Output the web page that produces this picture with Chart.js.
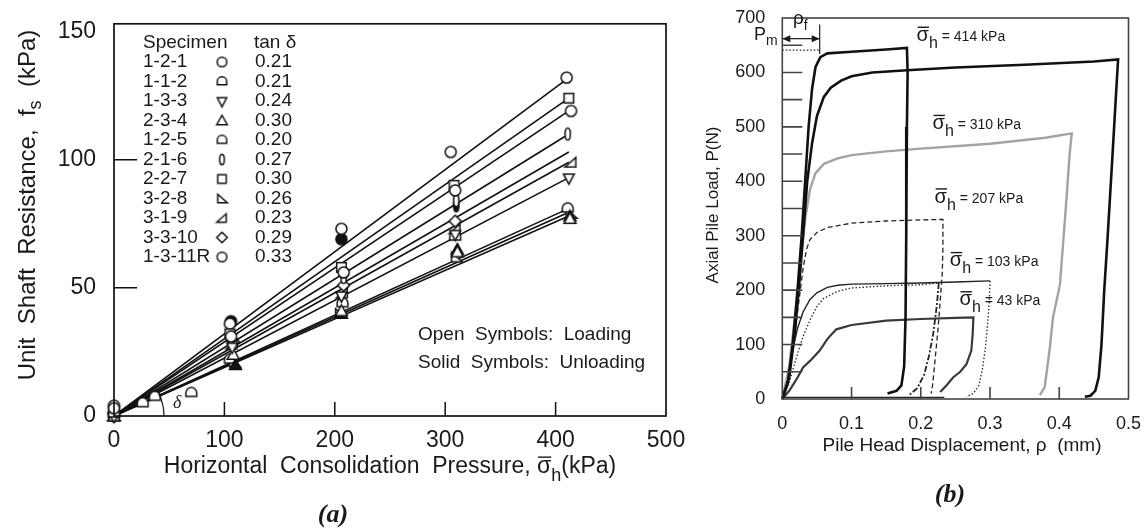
<!DOCTYPE html>
<html>
<head>
<meta charset="utf-8">
<title>Unit shaft resistance and pile load-displacement</title>
<script src="https://cdn.jsdelivr.net/npm/chart.js@4.4.1/dist/chart.umd.min.js"></script>
<style>
  html, body { margin: 0; padding: 0; background: #fff; }
  #page { position: relative; width: 1147px; height: 532px; overflow: hidden; background: #fff; }
  #chartA { position: absolute; left: 0; top: 0; }
  #chartB { position: absolute; left: 700px; top: 0; }
</style>
</head>
<body>
<div id="page">
  <canvas id="chartA" width="700" height="532"></canvas>
  <canvas id="chartB" width="447" height="532"></canvas>
</div>
<script>
var FONT = "'Liberation Sans', Arial, Helvetica, sans-serif";
var SERIF = "'Liberation Serif', 'Times New Roman', serif";
var INK = '#1a1a1a';

// ---------- panel (a): unit shaft resistance vs consolidation pressure ----------
var specimens = ['1-2-1', '1-1-2', '1-3-3', '2-3-4', '1-2-5', '2-1-6', '2-2-7', '3-2-8', '3-1-9', '3-3-10', '1-3-11R'];
var tanDelta = ['0.21', '0.21', '0.24', '0.30', '0.20', '0.27', '0.30', '0.26', '0.23', '0.29', '0.33'];

// loading (open symbols)
var loadX = [
  [0, 106, 208, 309, 414],
  [0, 26, 37, 70],
  [0, 107, 206, 309, 412],
  [0, 108, 206, 311, 413],
  [0, 105, 207, 309, 411],
  [0, 106, 208, 310, 411],
  [0, 105, 206, 308, 412],
  [0, 109, 205, 310, 414],
  [0, 107, 207, 309, 414],
  [0, 108, 208, 309],
  [0, 105, 206, 305, 410]
];
var loadY = [
  [3, 31, 56, 88, 119],
  [1, 5, 7.5, 9],
  [0, 27, 47, 71, 93],
  [0, 24, 41, 64, 77],
  [1, 22, 44, 70, 81],
  [0, 30, 54, 84, 110],
  [1, 32, 58, 90, 124],
  [0, 21, 40, 62, 79],
  [0, 28, 48, 73, 99],
  [1, 29, 51, 76],
  [4, 36, 73, 103, 132]
];
// unloading (solid symbols)
var unloadX = [[], [], [], [311, 206, 110, 413], [], [310], [], [], [], [], [206, 106]];
var unloadY = [[], [], [], [65, 40, 20, 78], [], [82], [], [], [], [], [69, 37]];
// fitted lines through the origin
var fitAt = 412;
var fitEnd = [119, null, 93, 78, 81, 110, 124, 79.5, 99, 103, 132];

var tickMarksAx = [100, 200, 300, 400];
var tickMarksAy = [50, 100];

var symbolKinds = ['circle', 'dome', 'invTri', 'triangle', 'dome', 'ellipse', 'square', 'rightTri', 'leftTri', 'diamond', 'circle'];

// ---------- panel (b): axial pile load vs pile head displacement ----------
var p414aX = [0, 0.008, 0.015, 0.022, 0.028, 0.033, 0.038, 0.043, 0.048, 0.055, 0.065, 0.1, 0.15, 0.18, 0.181, 0.18, 0.179, 0.178, 0.176, 0.172, 0.165, 0.152];
var p414aY = [0, 30, 100, 200, 300, 400, 500, 570, 610, 628, 635, 638, 642, 645, 600, 500, 300, 150, 60, 25, 15, 10];
var p414bX = [0, 0.01, 0.018, 0.025, 0.03, 0.036, 0.043, 0.05, 0.06, 0.07, 0.085, 0.1, 0.13, 0.18, 0.25, 0.35, 0.45, 0.485, 0.482, 0.477, 0.47, 0.465, 0.461, 0.457, 0.452, 0.445, 0.437];
var p414bY = [0, 40, 120, 220, 300, 400, 470, 520, 555, 572, 585, 593, 600, 604, 609, 614, 620, 624, 560, 450, 300, 200, 100, 40, 15, 6, 4];
var p310X = [0, 0.01, 0.02, 0.027, 0.033, 0.04, 0.048, 0.06, 0.08, 0.1, 0.15, 0.2, 0.3, 0.38, 0.418, 0.415, 0.41, 0.401, 0.391, 0.386, 0.379, 0.372];
var p310Y = [0, 60, 170, 260, 330, 385, 415, 432, 442, 448, 455, 460, 469, 480, 488, 450, 360, 210, 150, 90, 22, 7];
var p207X = [0, 0.01, 0.018, 0.025, 0.03, 0.035, 0.04, 0.05, 0.065, 0.1, 0.15, 0.2, 0.232, 0.232, 0.231, 0.228, 0.225, 0.222, 0.219, 0.217, 0.215];
var p207Y = [0, 50, 120, 190, 240, 275, 293, 306, 315, 323, 327, 329, 330, 280, 230, 180, 130, 90, 50, 25, 10];
var p103aX = [0, 0.008, 0.015, 0.022, 0.03, 0.04, 0.05, 0.065, 0.08, 0.1, 0.15, 0.2, 0.25, 0.3];
var p103aY = [0, 40, 90, 130, 160, 183, 195, 205, 209, 211, 212, 213, 215, 217];
var p103aUnX = [0.3, 0.299, 0.296, 0.293, 0.289, 0.284, 0.276, 0.266];
var p103aUnY = [217, 180, 130, 90, 55, 25, 10, 4];
var p103bX = [0, 0.01, 0.02, 0.03, 0.04, 0.05, 0.06, 0.08, 0.1, 0.15, 0.2, 0.226];
var p103bY = [0, 30, 75, 115, 145, 170, 185, 198, 204, 208, 210, 213];
var p103bUnX = [0.226, 0.223, 0.218, 0.212, 0.205, 0.195, 0.182];
var p103bUnY = [213, 170, 120, 80, 45, 20, 6];
var p43X = [0, 0.01, 0.02, 0.03, 0.04, 0.054, 0.065, 0.078, 0.1, 0.15, 0.2, 0.25, 0.276, 0.275, 0.273, 0.266, 0.257, 0.247, 0.237, 0.228];
var p43Y = [0, 15, 35, 58, 70, 89, 110, 128, 136, 144, 147, 149, 150, 120, 89, 64, 50, 40, 25, 13];
var baseX = [0, 0.234];
var baseY = [3, 3];
var pmX = [0, 0.054];
var pmY = [641, 641];
var rhoF = 0.054;
var sigmaValues = ['414', '310', '207', '103', '43'];

var tickMarksBx = [0.1, 0.2, 0.3, 0.4];
var tickMarksBy = [50, 100, 150, 200, 250, 300, 350, 400, 450, 500, 550, 600, 650];

// ---------- helpers ----------
function font(size, style, fam) { return (style ? style + ' ' : '') + size + 'px ' + (fam || FONT); }

function pts(xs, ys) { return xs.map(function (x, i) { return { x: x, y: ys[i] }; }); }

function drawRuns(ctx, runs, x, y, align) {
  var total = 0;
  runs.forEach(function (r) { ctx.font = font(r.size, r.style, r.fam); r.w = ctx.measureText(r.t).width; total += r.w; });
  var cx = align === 'center' ? x - total / 2 : x;
  ctx.textAlign = 'left';
  ctx.textBaseline = 'alphabetic';
  runs.forEach(function (r) {
    ctx.font = font(r.size, r.style, r.fam);
    ctx.fillText(r.t, cx, y + (r.dy || 0));
    if (r.bar) ctx.fillRect(cx + 1, y - r.size * 0.72, r.w - 1, 1.4);
    cx += r.w;
  });
}

// symbol glyphs drawn once, used as point styles and in the table
function makeSymbol(kind, filled, k) {
  var s = Math.ceil(14 * k) + 2, c = document.createElement('canvas');
  c.width = s; c.height = s;
  var g = c.getContext('2d');
  var m = s / 2;
  g.translate(m, m);
  g.scale(k, k);
  g.lineWidth = 1.5 / k;
  g.strokeStyle = '#111';
  g.fillStyle = filled ? '#111' : '#fff';
  g.beginPath();
  if (kind === 'circle') g.arc(0, 0, 4.6, 0, Math.PI * 2);
  else if (kind === 'dome') { g.moveTo(-4.5, 3); g.lineTo(-4.5, 0); g.arc(0, 0, 4.5, Math.PI, 0); g.lineTo(4.5, 3); g.closePath(); }
  else if (kind === 'ellipse') g.ellipse(0, 0, 2.2, 5, 0, 0, Math.PI * 2);
  else if (kind === 'square') g.rect(-4, -4, 8, 8);
  else if (kind === 'triangle') { g.moveTo(0, -5); g.lineTo(5, 4); g.lineTo(-5, 4); g.closePath(); }
  else if (kind === 'invTri') { g.moveTo(-4.5, -3); g.lineTo(4.5, -3); g.lineTo(0, 5.5); g.closePath(); }
  else if (kind === 'rightTri') { g.moveTo(-4, -4); g.lineTo(5, 4); g.lineTo(-4, 4); g.closePath(); }
  else if (kind === 'leftTri') { g.moveTo(4, -4); g.lineTo(4, 4); g.lineTo(-5, 4); g.closePath(); }
  else if (kind === 'diamond') { g.moveTo(0, -5); g.lineTo(5, 0); g.lineTo(0, 5); g.lineTo(-5, 0); g.closePath(); }
  g.fill();
  g.stroke();
  return c;
}

var openSym = symbolKinds.map(function (k) { return makeSymbol(k, false, 1.2); });
var solidSym = symbolKinds.map(function (k) { return makeSymbol(k, true, 1.2); });
var keySym = symbolKinds.map(function (k) { return makeSymbol(k, false, 1.05); });

// ---------- chart (a) ----------
var datasetsA = [];
specimens.forEach(function (name, i) {
  datasetsA.push({ label: name, data: pts(loadX[i], loadY[i]), pointStyle: openSym[i], pointRadius: 6, showLine: false, clip: 12, order: 1 });
  if (unloadX[i].length) {
    datasetsA.push({ label: name + ' unloading', data: pts(unloadX[i], unloadY[i]), pointStyle: solidSym[i], pointRadius: 6, showLine: false, clip: 12, order: 1 });
  }
  if (fitEnd[i] !== null) {
    datasetsA.push({ label: name + ' fit', data: [{ x: 0, y: 0 }, { x: fitAt, y: fitEnd[i] }], showLine: true, borderColor: '#111', borderWidth: 1.6, pointRadius: 0, order: 2 });
  }
});

var panelA = {
  id: 'panelA',
  afterDraw: function (chart) {
    var ctx = chart.ctx, a = chart.chartArea, xs = chart.scales.x, ys = chart.scales.y;
    ctx.save();
    ctx.strokeStyle = '#111';
    ctx.fillStyle = INK;
    ctx.lineWidth = 1.7;
    ctx.strokeRect(a.left, a.top, a.right - a.left, a.bottom - a.top);
    ctx.lineWidth = 1.5;
    ctx.beginPath();
    tickMarksAx.forEach(function (v) { var p = xs.getPixelForValue(v); ctx.moveTo(p, a.bottom); ctx.lineTo(p, a.bottom - 14); });
    tickMarksAy.forEach(function (v) { var p = ys.getPixelForValue(v); ctx.moveTo(a.left, p); ctx.lineTo(a.left + 23, p); });
    ctx.stroke();

    // angle delta
    var ox = xs.getPixelForValue(0), oy = ys.getPixelForValue(0);
    ctx.lineWidth = 1.2;
    ctx.beginPath();
    ctx.arc(ox, oy, 50, -0.46, 0);
    ctx.stroke();
    ctx.font = font(18, 'italic', SERIF);
    ctx.textBaseline = 'alphabetic';
    ctx.fillText('δ', 173, 408);

    // specimen table
    ctx.font = font(19);
    ctx.textBaseline = 'middle';
    ctx.textAlign = 'left';
    ctx.fillText('Specimen', 143, 43);
    ctx.fillText('tan δ', 254, 43);
    specimens.forEach(function (name, i) {
      var ry = 62 + i * 19.5;
      ctx.fillStyle = INK;
      ctx.fillText(name, 143, ry);
      ctx.drawImage(keySym[i], 222 - keySym[i].width / 2, ry - keySym[i].height / 2);
      ctx.fillText(tanDelta[i], 255, ry);
    });

    ctx.font = font(19);
    ctx.fillText('Open  Symbols:  Loading', 418, 335);
    ctx.fillText('Solid  Symbols:  Unloading', 418, 363);

    // axis titles
    drawRuns(ctx, [
      { t: 'Horizontal  Consolidation  Pressure, ', size: 23 },
      { t: 'σ', size: 23, bar: true },
      { t: 'h', size: 18, dy: 8 },
      { t: '(kPa)', size: 23 }
    ], 390, 473, 'center');

    ctx.save();
    ctx.translate(27, 205);
    ctx.rotate(-Math.PI / 2);
    drawRuns(ctx, [
      { t: 'Unit  Shaft  Resistance,  f', size: 24 },
      { t: 's', size: 18, dy: 6 },
      { t: '  (kPa)', size: 24 }
    ], 0, 8, 'center');
    ctx.restore();

    ctx.font = font(26, 'bold italic', SERIF);
    ctx.textAlign = 'center';
    ctx.textBaseline = 'middle';
    ctx.fillText('(a)', 333, 515);
    ctx.restore();
  }
};

new Chart(document.getElementById('chartA'), {
  type: 'scatter',
  data: { datasets: datasetsA },
  options: {
    responsive: false,
    animation: false,
    layout: { padding: { top: 21, right: 34, left: 0, bottom: 0 } },
    plugins: { legend: { display: false }, tooltip: { enabled: false } },
    scales: {
      x: {
        type: 'linear', min: 0, max: 500,
        ticks: { stepSize: 100, font: { family: FONT, size: 23 }, color: INK, padding: 3, maxRotation: 0 },
        grid: { display: false }, border: { display: false },
        afterFit: function (s) { s.height = 116; }
      },
      y: {
        type: 'linear', min: 0, max: 153,
        ticks: { stepSize: 50, includeBounds: false, font: { family: FONT, size: 23 }, color: INK, padding: 10 },
        grid: { display: false }, border: { display: false },
        afterFit: function (s) { s.width = 114; }
      }
    }
  },
  plugins: [panelA]
});

// ---------- chart (b) ----------
var curvesB = [
  { name: '414 kPa (1)', x: p414aX, y: p414aY, color: '#111', width: 2.6, dash: [] },
  { name: '414 kPa (2)', x: p414bX, y: p414bY, color: '#111', width: 2.6, dash: [] },
  { name: '310 kPa', x: p310X, y: p310Y, color: '#a3a3a3', width: 2.4, dash: [] },
  { name: '207 kPa', x: p207X, y: p207Y, color: '#222', width: 1.3, dash: [5, 3] },
  { name: '103 kPa (1)', x: p103aX, y: p103aY, color: '#222', width: 1.4, dash: [] },
  { name: '103 kPa (1) unload', x: p103aUnX, y: p103aUnY, color: '#333', width: 1.4, dash: [1.5, 2] },
  { name: '103 kPa (2)', x: p103bX, y: p103bY, color: '#333', width: 1.4, dash: [1.5, 2] },
  { name: '103 kPa (2) unload', x: p103bUnX, y: p103bUnY, color: '#222', width: 1.8, dash: [6, 2, 2, 2] },
  { name: '43 kPa', x: p43X, y: p43Y, color: '#3a3a3a', width: 2.2, dash: [] },
  { name: 'base', x: baseX, y: baseY, color: '#222', width: 1.2, dash: [] },
  { name: 'Pm', x: pmX, y: pmY, color: '#222', width: 1.2, dash: [1.5, 2] }
];

var datasetsB = curvesB.map(function (c) {
  return {
    label: c.name, data: pts(c.x, c.y), showLine: true, pointRadius: 0,
    borderColor: c.color, borderWidth: c.width, borderDash: c.dash, tension: 0, clip: 4
  };
});

// anchor points (data units) of the sigma labels
var sigmaAnchorX = [0.194, 0.217, 0.22, 0.242, 0.256];
var sigmaAnchorY = [667, 505, 370, 253, 181];

var panelB = {
  id: 'panelB',
  afterDraw: function (chart) {
    var ctx = chart.ctx, a = chart.chartArea, xs = chart.scales.x, ys = chart.scales.y;
    ctx.save();
    ctx.strokeStyle = '#444';
    ctx.fillStyle = INK;
    ctx.lineWidth = 1.6;
    ctx.strokeRect(a.left, a.top, a.right - a.left, a.bottom - a.top);
    ctx.beginPath();
    tickMarksBx.forEach(function (v) { var p = xs.getPixelForValue(v); ctx.moveTo(p, a.bottom); ctx.lineTo(p, a.bottom - 12); });
    tickMarksBy.forEach(function (v) { var p = ys.getPixelForValue(v); ctx.moveTo(a.left, p); ctx.lineTo(a.left + 20, p); });
    ctx.stroke();

    // rho_f arrow
    var x0 = xs.getPixelForValue(0), x1 = xs.getPixelForValue(rhoF), ya = ys.getPixelForValue(662);
    ctx.strokeStyle = '#222';
    ctx.lineWidth = 1.2;
    ctx.beginPath();
    ctx.moveTo(x0, ya); ctx.lineTo(x1, ya);
    ctx.moveTo(x1, ys.getPixelForValue(688)); ctx.lineTo(x1, ys.getPixelForValue(634));
    ctx.stroke();
    ctx.beginPath();
    ctx.moveTo(x0, ya); ctx.lineTo(x0 + 8, ya - 3.5); ctx.lineTo(x0 + 8, ya + 3.5); ctx.closePath();
    ctx.moveTo(x1, ya); ctx.lineTo(x1 - 8, ya - 3.5); ctx.lineTo(x1 - 8, ya + 3.5); ctx.closePath();
    ctx.fill();

    drawRuns(ctx, [{ t: 'ρ', size: 19 }, { t: 'f', size: 14, dy: 6 }], 93, 24, 'left');
    drawRuns(ctx, [{ t: 'P', size: 18 }, { t: 'm', size: 14, dy: 5 }], 54, 40, 'left');

    sigmaValues.forEach(function (v, i) {
      var px = xs.getPixelForValue(sigmaAnchorX[i]), py = ys.getPixelForValue(sigmaAnchorY[i]);
      drawRuns(ctx, [
        { t: 'σ', size: 20, bar: true },
        { t: 'h', size: 16, dy: 7 },
        { t: ' = ' + v + ' kPa', size: 14 }
      ], px, py + 5, 'left');
    });

    drawRuns(ctx, [{ t: 'Pile Head Displacement, ρ  (mm)', size: 19 }], 262, 451, 'center');

    ctx.save();
    ctx.translate(12, 205);
    ctx.rotate(-Math.PI / 2);
    drawRuns(ctx, [{ t: 'Axial Pile Load, P(N)', size: 17 }], 0, 6, 'center');
    ctx.restore();

    ctx.font = font(26, 'bold italic', SERIF);
    ctx.textAlign = 'center';
    ctx.textBaseline = 'middle';
    ctx.fillText('(b)', 250, 495);
    ctx.restore();
  }
};

new Chart(document.getElementById('chartB'), {
  type: 'scatter',
  data: { datasets: datasetsB },
  options: {
    responsive: false,
    animation: false,
    layout: { padding: { top: 10, right: 18.5, left: 0, bottom: 0 } },
    plugins: { legend: { display: false }, tooltip: { enabled: false } },
    scales: {
      x: {
        type: 'linear', min: 0, max: 0.5,
        ticks: { stepSize: 0.1, font: { family: FONT, size: 18 }, color: INK, padding: 6, maxRotation: 0 },
        grid: { display: false }, border: { display: false },
        afterFit: function (s) { s.height = 133; }
      },
      y: {
        type: 'linear', min: 0, max: 700,
        ticks: { stepSize: 100, font: { family: FONT, size: 18, lineHeight: 1 }, color: INK, padding: 9 },
        grid: { display: false }, border: { display: false },
        afterFit: function (s) { s.width = 82.3; }
      }
    }
  },
  plugins: [panelB]
});
</script>
</body>
</html>
